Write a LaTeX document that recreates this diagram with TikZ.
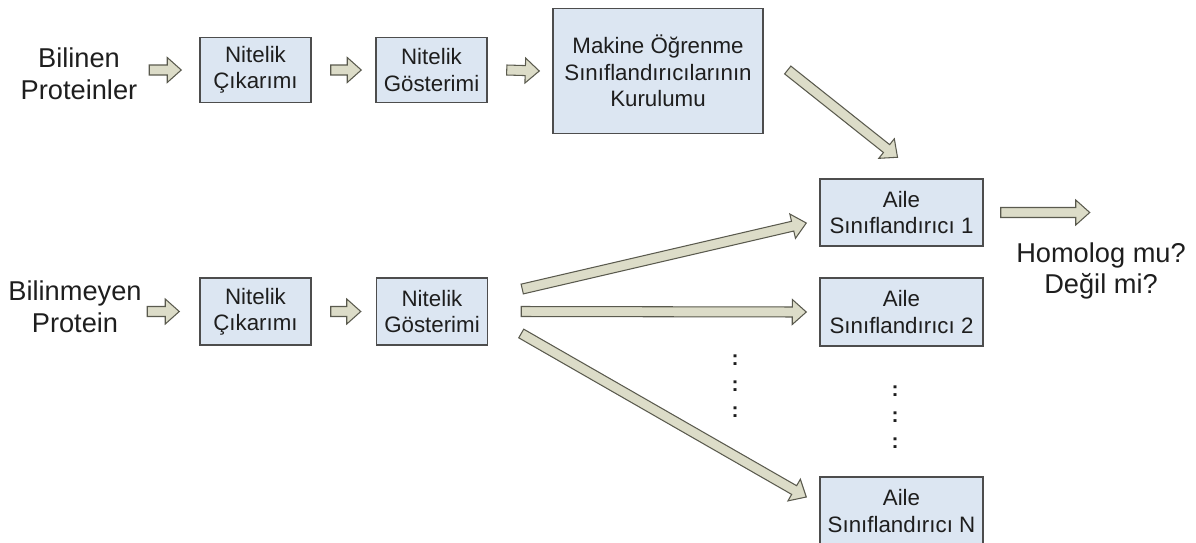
\documentclass[tikz,border=0pt]{standalone}
\usepackage{fontspec}
\setmainfont{Liberation Sans}
\usetikzlibrary{calc}
\definecolor{boxfill}{HTML}{DCE6F2}
\definecolor{boxline}{HTML}{4D4D4D}
\definecolor{arrfill}{HTML}{DCDCC8}
\definecolor{arrline}{HTML}{5A5A4E}
\definecolor{ink}{HTML}{1E1E1E}
% block arrow: start, tip
\newcommand{\fatarrow}[2]{%
	\coordinate (fa-s) at #1;
	\coordinate (fa-e) at #2;
	\coordinate (fa-b) at ($(fa-e)!0.28cm!(fa-s)$);
	\filldraw[fat] ($(fa-s)!0.1cm!90:(fa-e)$) -- ($(fa-b)!0.1cm!-90:(fa-s)$) -- ($(fa-b)!0.25cm!-90:(fa-s)$) -- (fa-e)
	-- ($(fa-b)!0.25cm!90:(fa-s)$) -- ($(fa-b)!0.1cm!90:(fa-s)$) -- ($(fa-s)!0.1cm!-90:(fa-e)$) -- cycle;
}
\begin{document}
\begin{tikzpicture}[x=0.02cm, y=-0.02cm, line join=miter,
	box/.style={draw=boxline, fill=boxfill, line width=0.85pt, inner sep=0pt, align=center, text=ink,
		font=\fontsize{12.7}{15}\selectfont},
	txt/.style={inner sep=0pt, align=center, text=ink, font=\fontsize{15.5}{18}\selectfont},
	fat/.style={draw=arrline, fill=arrfill, line width=0.6pt},
	dotcol/.style={inner sep=0pt, align=center, text=ink, font=\fontsize{12}{14.7}\selectfont\bfseries}]
	\useasboundingbox (0,0) rectangle (1196,542);
	% top row
	\node[txt] (known) at (79,74) {Bilinen\\Proteinler};
	\node[box, minimum width=2.22cm, minimum height=1.3cm] (ext1) at (255.5,70) {Nitelik\\Çıkarımı};
	\node[box, minimum width=2.22cm, minimum height=1.3cm] (rep1) at (431.5,70) {Nitelik\\Gösterimi};
	\node[box, minimum width=4.2cm, minimum height=2.5cm] (mlb) at (658,71) {Makine Öğrenme\\Sınıflandırıcılarının\\Kurulumu};
	% classifiers
	\node[box, minimum width=3.26cm, minimum height=1.34cm] (fam1) at (901.5,212.5) {Aile\\Sınıflandırıcı 1};
	\node[box, minimum width=3.26cm, minimum height=1.36cm] (fam2) at (901.5,312) {Aile\\Sınıflandırıcı 2};
	\node[box, minimum width=3.26cm, minimum height=1.36cm] (famN) at (901.5,511) {Aile\\Sınıflandırıcı N};
	\node[txt] (result) at (1101,271) {Homolog mu?\\Değil mi?};
	% bottom row
	\node[txt] (unknown) at (75,307) {Bilinmeyen\\Protein};
	\node[box, minimum width=2.22cm, minimum height=1.34cm] (ext2) at (255.5,311.5) {Nitelik\\Çıkarımı};
	\node[box, minimum width=2.22cm, minimum height=1.34cm] (rep2) at (432,311.5) {Nitelik\\Gösterimi};
	\node[dotcol] (dots1) at (735,386) {:\\:\\:};
	\node[dotcol] (dots2) at (895,417) {:\\:\\:};
	% arrows
	\fatarrow{($(ext1.west)+(-50,0)$)}{($(ext1.west)+(-18,0)$)}
	\fatarrow{($(ext1.east)+(19,0)$)}{($(rep1.west)+(-14,0)$)}
	\fatarrow{($(rep1.east)+(19,0)$)}{($(mlb.west)+(-13,0)$)}
	\fatarrow{($(mlb.east)+(24,-1)$)}{($(fam1.north)+(-4,-21)$)}
	\fatarrow{($(ext2.west)+(-52,0)$)}{($(ext2.west)+(-20,0)$)}
	\fatarrow{($(ext2.east)+(19,0)$)}{($(rep2.west)+(-15,0)$)}
	\fatarrow{($(rep2.east)+(34,-22.5)$)}{($(fam1.west)+(-13,10.5)$)}
	\fatarrow{($(rep2.east)+(33,0)$)}{($(fam2.west)+(-13,0)$)}
	\fatarrow{($(rep2.east)+(33,22)$)}{($(famN.west)+(-13,-14)$)}
	\fatarrow{($(fam1.east)+(17,0)$)}{($(fam1.east)+(106,0)$)}
\end{tikzpicture}
\end{document}
